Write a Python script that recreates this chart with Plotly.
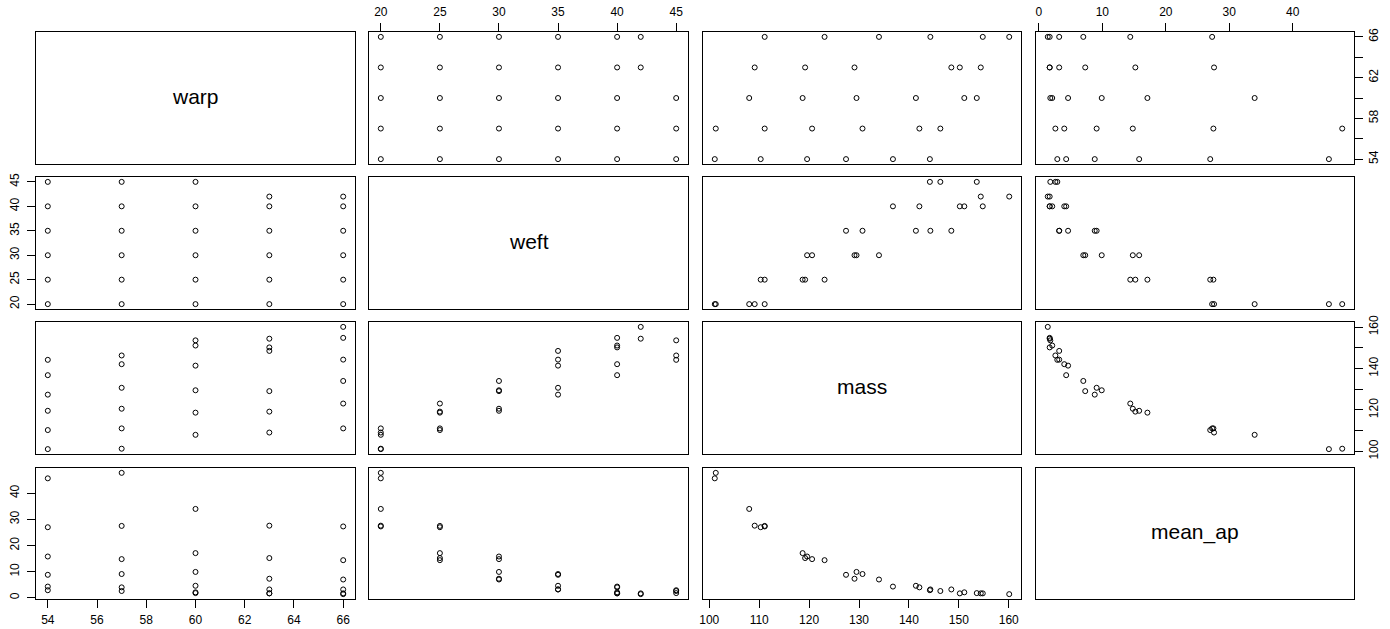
import numpy as np
import plotly.graph_objects as go

# Fabric measurements: 30 samples
warp = [54, 54, 54, 54, 54, 54,
        57, 57, 57, 57, 57, 57,
        60, 60, 60, 60, 60, 60,
        63, 63, 63, 63, 63, 63,
        66, 66, 66, 66, 66, 66]
weft = [20, 25, 30, 35, 40, 45,
        20, 25, 30, 35, 40, 45,
        20, 25, 30, 35, 40, 45,
        20, 25, 30, 35, 40, 42,
        20, 25, 30, 35, 40, 42]
mass = [101.1, 110.3, 119.6, 127.4, 136.8, 144.2,
        101.3, 111.1, 120.6, 130.7, 142.1, 146.3,
        108.0, 118.7, 129.5, 141.4, 151.1, 153.6,
        109.1, 119.2, 129.1, 148.5, 150.2, 154.4,
        111.1, 123.1, 134.0, 144.3, 154.8, 160.1]
mean_ap = [45.7, 27.0, 15.8, 8.8, 4.3, 2.9,
           47.8, 27.5, 14.8, 9.1, 4.0, 2.6,
           34.0, 17.1, 9.9, 4.6, 2.1, 1.8,
           27.6, 15.2, 7.3, 3.2, 1.7, 1.7,
           27.3, 14.4, 7.0, 3.2, 1.7, 1.4]

var_names = ["warp", "weft", "mass", "mean_ap"]
data = {"warp": warp, "weft": weft, "mass": mass, "mean_ap": mean_ap}

# Tick positions; horizontal axes label every tick, rotated vertical axes skip some
tick_vals = {
    "warp": [54, 56, 58, 60, 62, 64, 66],
    "weft": [20, 25, 30, 35, 40, 45],
    "mass": [100, 110, 120, 130, 140, 150, 160],
    "mean_ap": [0, 10, 20, 30, 40],
}
x_tick_text = {
    "warp": ["54", "56", "58", "60", "62", "64", "66"],
    "weft": ["20", "25", "30", "35", "40", "45"],
    "mass": ["100", "110", "120", "130", "140", "150", "160"],
    "mean_ap": ["0", "10", "20", "30", "40"],
}
y_tick_text = {
    "warp": ["54", "", "58", "", "62", "", "66"],
    "weft": ["20", "25", "30", "35", "40", "45"],
    "mass": ["100", "", "120", "", "140", "", "160"],
    "mean_ap": ["0", "10", "20", "30", "40"],
}

W, H = 1390, 629
col_px = [(36, 355), (369, 688), (703, 1021), (1036, 1354)]
row_px = [(32, 164), (177, 309), (322, 454), (468, 599)]

FONT = "Liberation Sans, Arial, sans-serif"


def padded_range(v):
    lo, hi = float(np.min(v)), float(np.max(v))
    d = (hi - lo) * 0.04
    return [lo - d, hi + d]


fig = go.Figure()
layout = {}
annotations = []

for i, yv in enumerate(var_names):
    for j, xv in enumerate(var_names):
        k = i * 4 + j + 1
        sfx = "" if k == 1 else str(k)
        xa, ya = "x" + sfx, "y" + sfx

        if i == j:
            fig.add_trace(go.Scatter(x=[], y=[], xaxis=xa, yaxis=ya,
                                     mode="markers", showlegend=False))
            annotations.append(dict(
                text=xv, x=0.5, y=0.5, xref=xa + " domain", yref=ya + " domain",
                yshift=2, showarrow=False,
                font=dict(family=FONT, size=21, color="black")))
        else:
            fig.add_trace(go.Scatter(
                x=data[xv], y=data[yv], xaxis=xa, yaxis=ya, mode="markers",
                showlegend=False,
                marker=dict(symbol="circle-open", size=5, color="black",
                            line=dict(width=1, color="black"))))

        # horizontal axis: bottom on columns 1 & 3, top on columns 2 & 4
        x_show = (j % 2 == 0 and i == 3) or (j % 2 == 1 and i == 0)
        x_side = "bottom" if j % 2 == 0 else "top"
        xl, xr = col_px[j]
        layout["xaxis" + sfx] = dict(
            domain=[xl / W, xr / W], anchor=ya, range=padded_range(data[xv]),
            showgrid=False, zeroline=False, showline=True, mirror=True,
            linecolor="black", linewidth=1, automargin=False,
            side=x_side, ticks="outside" if x_show else "",
            showticklabels=x_show, tickvals=tick_vals[xv],
            ticktext=x_tick_text[xv], ticklen=8, tickwidth=1, tickcolor="black",
            ticklabelstandoff=2,
            tickfont=dict(family=FONT, size=12, color="black"))

        # vertical axis: left on rows 2 & 4, right on rows 1 & 3
        y_show = (i % 2 == 1 and j == 0) or (i % 2 == 0 and j == 3)
        y_side = "left" if i % 2 == 1 else "right"
        yt, yb = row_px[i]
        layout["yaxis" + sfx] = dict(
            domain=[1 - yb / H, 1 - yt / H], anchor=xa, range=padded_range(data[yv]),
            showgrid=False, zeroline=False, showline=True, mirror=True,
            linecolor="black", linewidth=1, automargin=False,
            side=y_side, ticks="outside" if y_show else "",
            showticklabels=y_show, tickvals=tick_vals[yv],
            ticktext=y_tick_text[yv], ticklen=8, tickwidth=1, tickcolor="black",
            tickangle=-90, ticklabelstandoff=3 if y_side == "left" else 1,
            tickfont=dict(family=FONT, size=12, color="black"))

fig.update_layout(
    width=W, height=H,
    margin=dict(l=0, r=0, t=0, b=0),
    paper_bgcolor="white", plot_bgcolor="white",
    showlegend=False,
    annotations=annotations,
    **layout,
)

fig.write_html("out.html")
